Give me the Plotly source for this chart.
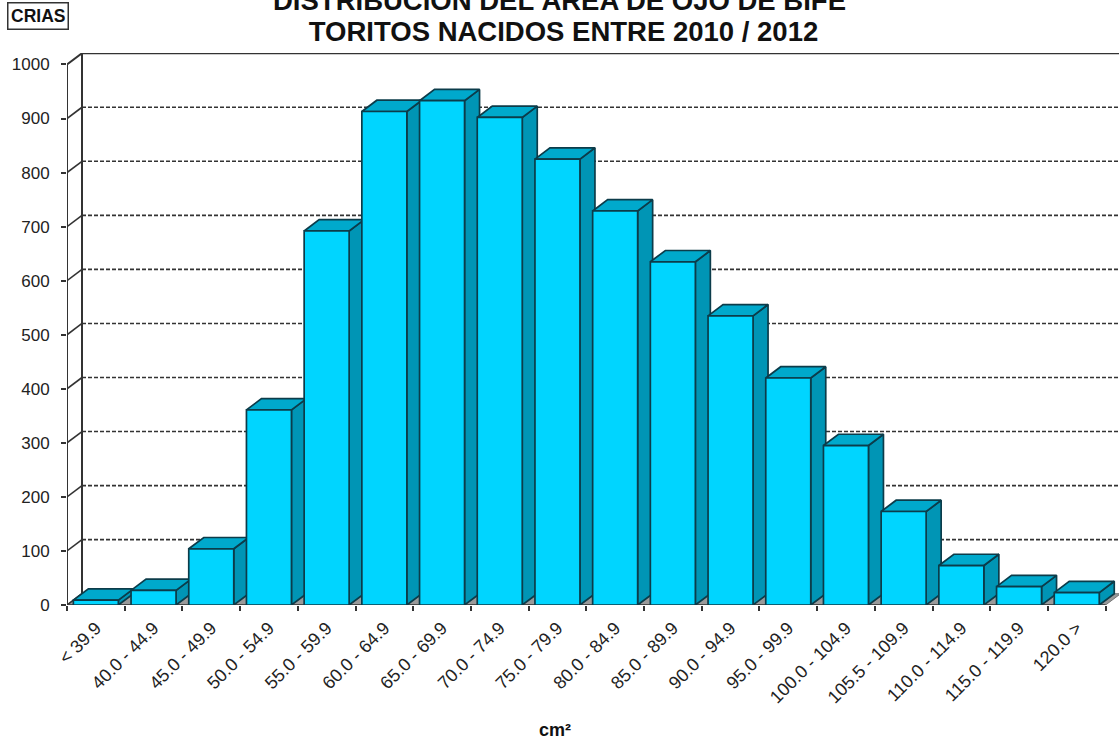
import plotly.graph_objects as go

categories = ["< 39.9", "40.0 - 44.9", "45.0 - 49.9", "50.0 - 54.9", "55.0 - 59.9", "60.0 - 64.9",
              "65.0 - 69.9", "70.0 - 74.9", "75.0 - 79.9", "80.0 - 84.9", "85.0 - 89.9", "90.0 - 94.9",
              "95.0 - 99.9", "100.0 - 104.9", "105.5 - 109.9", "110.0 - 114.9", "115.0 - 119.9", "120.0 >"]
values = [9, 27, 104, 361, 692, 913, 933, 902, 825, 729, 635, 535, 420, 295, 173, 73, 34, 23]
y_ticks = [0, 100, 200, 300, 400, 500, 600, 700, 800, 900, 1000]

WIDTH, HEIGHT = 1119, 742
M_L, M_T, M_B = 67, 53, 136.5
CAT_PX = 57.7
PX_PER_UNIT = 0.541
DX = 15 / CAT_PX          # depth of the 3D effect, in category units
DY = 11.3 / PX_PER_UNIT   # depth of the 3D effect, in value units
HALF_BAR = 22.5 / CAT_PX
X_MIN = -0.5
X_MAX = X_MIN + (WIDTH - M_L) / CAT_PX
Y_MAX = (HEIGHT - M_B - M_T) / PX_PER_UNIT
LAST = len(categories) - 0.5
AXIS = "#333333"
EDGE = "#0c3c4a"
FRONT, TOP, SIDE = "#00D5FF", "#00A9CC", "#0095B5"
PLOT_W, PLOT_H = WIDTH - M_L, HEIGHT - M_T - M_B

fig = go.Figure()


def poly(xs, ys, fill, line=EDGE, width=1.7):
    fig.add_trace(go.Scatter(x=xs + xs[:1], y=ys + ys[:1], mode="lines", fill="toself", fillcolor=fill,
                             line=dict(color=line, width=width), hoverinfo="skip", showlegend=False,
                             cliponaxis=False))


def seg(xs, ys, dash="solid", width=1.8):
    fig.add_trace(go.Scatter(x=xs, y=ys, mode="lines", line=dict(color=AXIS, width=width, dash=dash),
                             hoverinfo="skip", showlegend=False, cliponaxis=False))


# floor
poly([X_MIN, LAST, LAST + DX, X_MIN + DX], [0, 0, DY, DY], "#9a9a9a", line="#777777", width=1)
# back wall and gridlines
seg([X_MIN + DX, X_MIN + DX], [DY, 1000 + DY], width=2)
for v in y_ticks[1:-1]:
    seg([X_MIN, X_MIN + DX], [v, v + DY], width=1.6)
    seg([X_MIN + DX, X_MAX], [v + DY, v + DY], dash="4px,2px", width=1.6)
seg([X_MIN, X_MIN + DX, X_MAX], [1000, 1000 + DY, 1000 + DY], width=2)
seg([X_MIN, X_MIN + DX], [0, DY], width=1.6)
seg([X_MIN, X_MIN], [0, 1000], width=2)
seg([X_MIN, LAST], [0, 0], width=1.6)

# bars, left to right so each one covers the previous one's side
for i, v in enumerate(values):
    l, r = i - HALF_BAR, i + HALF_BAR
    poly([r, r + DX, r + DX, r], [0, DY, v + DY, v], SIDE)
    poly([l, r, r + DX, l + DX], [v, v, v + DY, v + DY], TOP)
    poly([l, r, r, l], [0, 0, v, v], FRONT)

fig.update_layout(
    width=WIDTH, height=HEIGHT, autosize=False,
    margin=dict(l=M_L, r=0, t=M_T, b=M_B),
    paper_bgcolor="white", plot_bgcolor="white",
    font=dict(family="Liberation Sans, Arial, sans-serif", color="#222222", size=17),
    showlegend=False,
    title=dict(text="<b>TORITOS NACIDOS ENTRE 2010 / 2012</b>",
               font=dict(size=27.5, color="#111111"), x=563.5 / WIDTH, xanchor="center",
               y=1 - 31 / HEIGHT, yanchor="middle", yref="container"),
    xaxis=dict(range=[X_MIN, X_MAX], tickmode="array", tickvals=list(range(len(categories))),
               ticktext=categories, tickangle=-45, ticks="", showgrid=False, zeroline=False,
               showline=False, tickfont=dict(size=18), ticklabelstandoff=8,
               minor=dict(tickmode="array", tickvals=[i - 0.5 for i in range(len(categories) + 1)],
                          ticks="outside", ticklen=5, tickcolor=AXIS, tickwidth=1.6, showgrid=False)),
    yaxis=dict(range=[0, Y_MAX], tickmode="array", tickvals=y_ticks, ticks="outside", ticklen=5,
               tickcolor=AXIS, tickwidth=1.6, showgrid=False, zeroline=False, showline=False,
               tickfont=dict(size=17), ticklabelstandoff=8),
    annotations=[
        dict(text="<b>DISTRIBUCIÓN DEL ÁREA DE OJO DE BIFE</b>", xref="paper", yref="paper",
             x=(559 - M_L) / PLOT_W, y=1 + (M_T - 0) / PLOT_H, xanchor="center", yanchor="middle",
             showarrow=False, font=dict(size=27.5, color="#111111")),
        dict(text="<b>CRIAS</b>", xref="paper", yref="paper", x=(38 - M_L) / PLOT_W,
             y=1 + (M_T - 15.5) / PLOT_H, xanchor="center", yanchor="middle",
             showarrow=False, font=dict(size=17.5, color="#111111"), bordercolor="#333333", borderwidth=1.5,
             borderpad=2.5, bgcolor="white"),
        dict(text="<b>cm²</b>", xref="paper", yref="paper", x=(555 - M_L) / PLOT_W,
             y=-(731 - (HEIGHT - M_B)) / PLOT_H, xanchor="center", yanchor="middle",
             showarrow=False, font=dict(size=18, color="#111111")),
    ],
)

fig.write_html("out.html", config={"displayModeBar": False},
               post_script="document.body.style.margin='0';document.documentElement.style.overflow='hidden';")
